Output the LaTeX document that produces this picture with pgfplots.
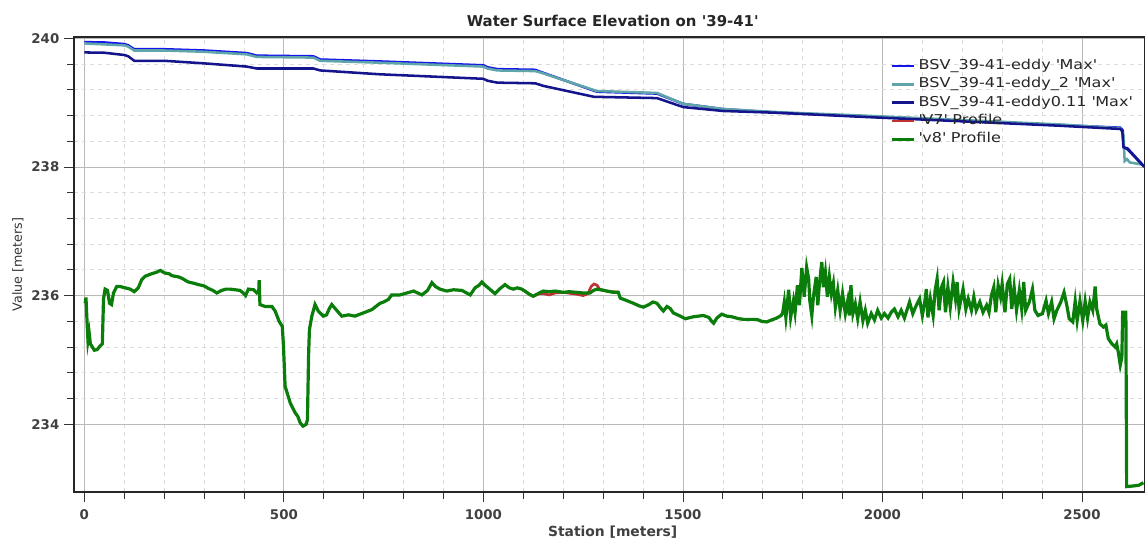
\documentclass[border=0pt]{standalone}
\usepackage{pgfplots}
\pgfplotsset{compat=1.18}
\usepackage{fontspec}
\setmainfont{DejaVu Sans}
\newfontfamily\legfont[FakeStretch=1.18]{DejaVu Sans}
\newcommand{\q}{\textquotesingle}
\definecolor{cBlue}{RGB}{20,20,235}
\definecolor{cTeal}{RGB}{95,165,170}
\definecolor{cNavy}{RGB}{20,20,140}
\definecolor{cRed}{RGB}{190,50,50}
\definecolor{cGreen}{RGB}{10,125,10}
\begin{document}
\begin{tikzpicture}
\path[use as bounding box] (-55.5pt,-36.75pt) rectangle (803.25pt,369pt);
\begin{axis}[
  at={(0,0)}, anchor=south west,
  width=803.25pt, height=341.25pt, scale only axis,
  xmin=-26, xmax=2658, ymin=232.946, ymax=240.02,
  xtick={0,500,1000,1500,2000,2500}, ytick={234,236,238,240},
  minor x tick num=4, minor y tick num=4,
  grid=both,
  major grid style={solid, draw=gray!55, line width=0.6pt},
  minor grid style={dashed, draw=gray!28, line width=0.5pt},
  tick align=outside, xtick pos=bottom, ytick pos=left,
  major tick length=7.5pt, minor tick length=5pt,
  tick style={black!80, line width=0.6pt},
  axis line style={black!85, line width=0.8pt},
  ticklabel style={font=\bfseries\fontsize{10}{12}\selectfont, text=black!75},
  xticklabel style={yshift=-2.5pt},
  /pgf/number format/assume math mode=true,
  /pgf/number format/1000 sep={},
  title={Water Surface Elevation on \q39-41\q},
  title style={font=\bfseries\fontsize{11.2}{13}\selectfont, text=black!85, at={(axis description cs:0.503,1)}, anchor=south, yshift=-1.5pt},
  xlabel={Station [meters]},
  xlabel style={font=\bfseries\fontsize{10.4}{12}\selectfont, text=black!75, at={(axis description cs:0.503,0)}, anchor=center, yshift=-30pt},
  ylabel={Value [meters]},
  ylabel style={font=\fontsize{9.5}{11}\selectfont, text=black!80, at={(axis description cs:0,0.5)}, anchor=center, yshift=42pt},
  legend style={at={(axis description cs:0.7617,0.9565)}, anchor=north west, draw=none, fill=none,
    font=\legfont\fontsize{10.2}{12}\selectfont, text=black!85, row sep=0.2pt, inner sep=0pt,
    nodes={text height=7.5pt, text depth=2pt, inner ysep=2pt}},
  legend cell align=left,
]
\addplot[cBlue, line width=1.9pt] coordinates {
(0,239.94) (50,239.935) (100,239.91) (110,239.89) (125,239.83) (200,239.83) (300,239.81) (407,239.77) (432,239.73) (574,239.72) (591,239.67) (741,239.64) (1000,239.58) (1010,239.55) (1035,239.52) (1130,239.51) (1142,239.48) (1284,239.17) (1435,239.14) (1501,238.98) (1600,238.90) (1744,238.84) (1944,238.79) (2195,238.72) (2445,238.65) (2596,238.61) (2602,238.57) (2605,238.30) (2614,238.29) (2654,238.02)
};
\addlegendentry{BSV\_39-41-eddy \q Max\q}
\addplot[cTeal, line width=1.9pt] coordinates {
(0,239.92) (100,239.89) (110,239.87) (125,239.81) (200,239.81) (300,239.79) (407,239.75) (432,239.71) (574,239.70) (591,239.65) (741,239.62) (1000,239.56) (1010,239.53) (1035,239.50) (1130,239.49) (1142,239.47) (1284,239.18) (1435,239.15) (1501,238.98) (1600,238.90) (1744,238.85) (1944,238.80) (2195,238.73) (2445,238.66) (2596,238.60) (2604,238.50) (2607,238.09) (2613,238.12) (2620,238.07) (2648,238.04)
};
\addlegendentry{BSV\_39-41-eddy\_2 \q Max\q}
\addplot[cNavy, line width=1.9pt] coordinates {
(0,239.78) (50,239.775) (100,239.74) (110,239.72) (125,239.65) (200,239.65) (300,239.61) (407,239.56) (432,239.53) (574,239.53) (591,239.50) (741,239.44) (1000,239.37) (1010,239.34) (1035,239.31) (1130,239.30) (1150,239.26) (1277,239.09) (1435,239.07) (1501,238.93) (1600,238.87) (1744,238.84) (1944,238.78) (2195,238.71) (2445,238.64) (2596,238.59) (2601,238.56) (2604,238.31) (2615,238.27) (2656,238.00)
};
\addlegendentry{BSV\_39-41-eddy0.11 \q Max\q}
\addplot[cRed, line width=2pt] coordinates {
(1100,236.08) (1125,235.99) (1140,236.03) (1150,236.03) (1165,236.01) (1180,236.04) (1200,236.05) (1234,236.02) (1250,236.00) (1262,236.03) (1270,236.14) (1277,236.18) (1285,236.16) (1292,236.09) (1309,236.07) (1338,236.05)
};
\addlegendentry{\q V7\q{} Profile}
\addplot[cGreen, line width=2.4pt] coordinates {
(2,235.88) (4,235.97) (7,235.55) (9,235.30) (12,235.42) (15,235.25) (20,235.20) (25,235.15) (32,235.16) (40,235.22) (45,235.25) (48,235.95) (52,236.10) (58,236.08) (63,235.88) (68,235.86) (73,236.04) (81,236.14) (90,236.14) (102,236.12) (115,236.10) (125,236.06) (135,236.12) (144,236.25) (152,236.30) (169,236.34) (180,236.36) (190,236.39) (202,236.35) (212,236.34) (219,236.31) (227,236.30) (236,236.29) (244,236.27) (255,236.23) (261,236.21) (275,236.19) (286,236.17) (300,236.15) (311,236.11) (322,236.08) (332,236.04) (344,236.08) (355,236.10) (365,236.10) (378,236.09) (390,236.08) (398,236.04) (404,236.00) (411,236.10) (424,236.09) (432,236.04) (437,236.06) (438,236.24) (440,235.86) (453,235.83) (470,235.83) (478,235.76) (488,235.60) (496,235.52) (499,235.21) (503,234.59) (510,234.45) (516,234.33) (528,234.18) (535,234.12) (541,234.02) (548,233.97) (556,234.00) (559,234.07) (562,235.10) (564,235.47) (570,235.68) (578,235.86) (586,235.76) (599,235.68) (607,235.70) (614,235.80) (620,235.86) (631,235.78) (645,235.68) (662,235.70) (678,235.68) (699,235.73) (720,235.78) (741,235.88) (750,235.90) (762,235.94) (770,236.01) (791,236.01) (825,236.07) (846,236.01) (860,236.08) (871,236.20) (880,236.14) (891,236.10) (908,236.07) (925,236.09) (946,236.08) (967,236.01) (979,236.12) (989,236.16) (996,236.21) (1004,236.16) (1012,236.12) (1029,236.03) (1040,236.10) (1054,236.17) (1065,236.12) (1075,236.10) (1085,236.12) (1096,236.10) (1104,236.07) (1115,236.02) (1125,235.99) (1140,236.04) (1150,236.07) (1165,236.06) (1180,236.07) (1200,236.05) (1215,236.06) (1234,236.05) (1250,236.04) (1267,236.04) (1276,236.08) (1284,236.10) (1295,236.09) (1309,236.07) (1325,236.05) (1338,236.05) (1343,235.96) (1360,235.92) (1376,235.88) (1390,235.84) (1401,235.82) (1415,235.86) (1425,235.90) (1435,235.88) (1445,235.80) (1451,235.76) (1460,235.83) (1468,235.80) (1476,235.73) (1490,235.69) (1506,235.64) (1526,235.67) (1551,235.69) (1565,235.66) (1572,235.60) (1577,235.57) (1585,235.65) (1597,235.71) (1610,235.68) (1623,235.67) (1640,235.64) (1652,235.63) (1670,235.63) (1685,235.63) (1697,235.60) (1710,235.59) (1722,235.62) (1735,235.65) (1746,235.69)
(1750,235.73) (1754,235.90) (1758,235.66) (1765,236.09) (1770,235.66) (1777,235.92) (1781,235.74) (1787,236.16) (1792,235.85) (1798,236.43) (1804,235.98) (1810,236.44) (1815,236.26) (1818,235.92) (1823,235.69) (1827,235.98) (1834,236.29) (1838,235.85) (1842,236.18) (1848,236.52) (1852,236.13) (1857,236.36) (1862,235.98) (1867,236.29) (1872,236.03) (1877,236.19) (1882,235.82) (1888,236.08) (1894,235.77) (1900,236.03) (1907,235.72) (1913,235.92) (1917,235.69) (1921,236.16) (1926,235.72) (1932,235.87) (1938,235.64) (1944,235.90) (1951,235.61) (1957,235.77) (1963,235.57) (1972,235.72) (1980,235.62) (1988,235.77) (1997,235.65) (2005,235.72) (2014,235.65) (2022,235.74) (2030,235.79) (2039,235.67) (2047,235.77) (2055,235.65) (2068,235.90) (2076,235.72) (2085,235.85) (2093,235.95) (2100,235.69) (2106,235.90) (2110,236.10) (2114,235.66) (2120,235.95) (2127,235.69) (2132,236.08) (2137,236.26) (2142,235.77) (2148,236.13) (2153,236.21) (2158,235.74) (2164,236.13) (2170,235.82) (2177,236.21) (2183,235.95) (2187,236.21) (2192,235.79) (2198,235.98) (2202,236.10) (2209,235.79) (2215,235.95) (2223,235.77) (2229,235.98) (2235,235.77) (2244,235.90) (2252,235.74) (2261,235.85) (2267,235.74) (2273,236.00) (2279,236.13) (2284,235.74) (2290,236.16) (2296,235.98) (2300,236.18) (2307,235.74) (2313,236.18) (2319,236.26) (2324,235.79) (2330,236.13) (2336,235.77) (2343,236.08) (2349,235.79) (2354,236.21) (2359,235.77) (2368,235.90) (2376,236.10) (2382,235.77) (2390,235.69) (2401,235.72) (2410,235.92) (2416,235.72) (2424,235.90) (2430,235.64) (2437,235.77) (2447,235.90) (2455,236.05) (2462,235.85) (2468,235.64) (2477,235.59) (2483,235.91) (2488,235.61) (2495,235.91) (2502,235.61) (2508,235.91) (2514,235.65) (2520,235.90) (2527,235.77) (2533,236.14) (2537,235.79) (2545,235.56) (2554,235.51) (2560,235.54) (2566,235.33) (2575,235.25) (2583,235.20) (2587,235.25) (2591,235.12) (2596,234.92) (2600,235.04) (2602,235.74) (2610,235.74) (2612,233.03) (2629,233.04) (2642,233.05) (2654,233.09)
};
\addlegendentry{\q v8\q{} Profile}
\end{axis}
\end{tikzpicture}
\end{document}
